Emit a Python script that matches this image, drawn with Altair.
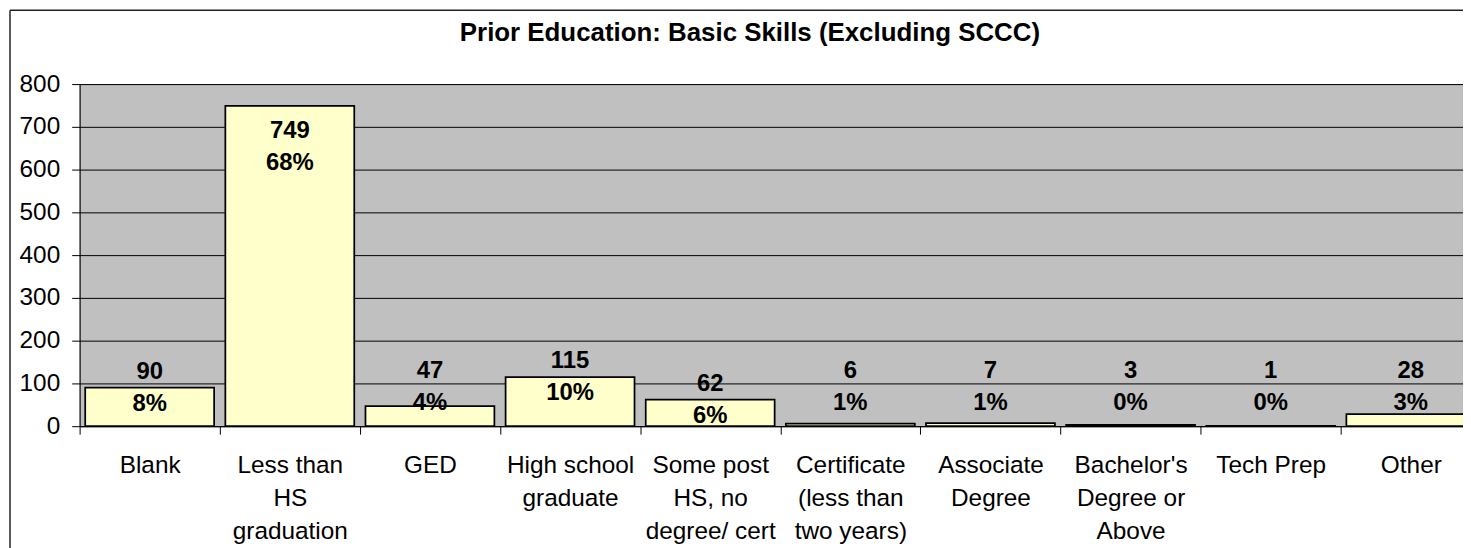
import json
import altair as alt
import pandas as pd

# ---- data ----
categories = [
    "Blank",
    "Less than HS graduation",
    "GED",
    "High school graduate",
    "Some post HS, no degree/ cert",
    "Certificate (less than two years)",
    "Associate Degree",
    "Bachelor's Degree or Above",
    "Tech Prep",
    "Other",
]
counts = [90, 749, 47, 115, 62, 6, 7, 3, 1, 28]
tick_label_lines = [
    ["Blank"],
    ["Less than", "HS", "graduation"],
    ["GED"],
    ["High school", "graduate"],
    ["Some post", "HS, no", "degree/ cert"],
    ["Certificate", "(less than", "two years)"],
    ["Associate", "Degree"],
    ["Bachelor's", "Degree or", "Above"],
    ["Tech Prep"],
    ["Other"],
]
y_ticks = [0, 100, 200, 300, 400, 500, 600, 700, 800]
chart_title = "Prior Education: Basic Skills (Excluding SCCC)"

df = pd.DataFrame({"category": categories, "count": counts})
label_map = json.dumps(dict(zip(categories, tick_label_lines)))

FONT = "Liberation Sans"
PLOT_W = 1391
PLOT_H = 344
BAND_RANGE = 1409

x_scale = alt.Scale(range=[0, BAND_RANGE], paddingInner=0, paddingOuter=0)
x_axis = alt.Axis(
    title=None,
    labelExpr=f"{label_map}[datum.label]",
    labelAngle=0,
    labelFontSize=24.5,
    labelLineHeight=33,
    labelBaseline="top",
    labelPadding=20,
    labelColor="black",
    labelFont=FONT,
    tickBand="extent",
    tickSize=8,
    tickColor="black",
    domainColor="black",
    grid=False,
)
y_scale = alt.Scale(domain=[0, 800], nice=False)
y_axis = alt.Axis(
    title=None,
    values=y_ticks,
    labelFontSize=24.5,
    labelPadding=12,
    labelColor="black",
    labelFont=FONT,
    tickSize=8,
    tickColor="black",
    domainColor="black",
    grid=True,
    gridColor="black",
    gridWidth=1,
)

base = alt.Chart(df)

bars = base.mark_bar(
    fill="#FFFFCC", stroke="black", strokeWidth=1.75, width=alt.RelativeBandSize(0.92)
).encode(
    x=alt.X("category:N", sort=categories, scale=x_scale, axis=x_axis),
    y=alt.Y("count:Q", scale=y_scale, axis=y_axis),
)

labels = (
    base.transform_joinaggregate(total="sum(count)")
    .transform_calculate(
        lab="[format(datum.count, 'd'), format(datum.count / datum.total, '.0%')]",
        ly="datum.count > 500 ? datum.count - 95 : (datum.count >= 60 ? datum.count : 92)",
    )
    .mark_text(
        font=FONT,
        fontSize=24,
        fontWeight="bold",
        lineHeight=32.5,
        baseline="middle",
        align="center",
        color="black",
        dy=-16,
    )
    .encode(
        x=alt.X("category:N", sort=categories, scale=x_scale, axis=x_axis),
        y=alt.Y("ly:Q", scale=y_scale, axis=y_axis),
        text="lab:N",
    )
)

title_df = pd.DataFrame({"t": [chart_title]})
title_mark = alt.Chart(title_df).mark_text(
    font=FONT, fontSize=26, fontWeight="bold", color="black",
    align="center", baseline="alphabetic",
).encode(text="t:N", x=alt.value(674), y=alt.value(-43.5))

frame_df = pd.DataFrame({"part": ["frame"]})
left_border = alt.Chart(frame_df).mark_rule(color="#222222", strokeWidth=1.5).encode(
    x=alt.value(-70), y=alt.value(-74.25), y2=alt.value(PLOT_H + 130)
)
top_border = alt.Chart(frame_df).mark_rule(color="#222222", strokeWidth=1.5).encode(
    x=alt.value(-70), x2=alt.value(BAND_RANGE + 40), y=alt.value(-74.25)
)

chart = (
    alt.layer(bars, labels, title_mark, left_border, top_border)
    .properties(
        width=PLOT_W,
        height=PLOT_H,
        autosize=alt.AutoSizeParams(type="none"),
        padding={"left": 72, "top": 75, "right": 0, "bottom": 121},
    )
    .configure(background="white")
    .configure_view(fill="#C0C0C0", stroke="#808080", strokeWidth=1)
)

chart.save("out.html", embed_options={"renderer": "svg", "actions": False})
